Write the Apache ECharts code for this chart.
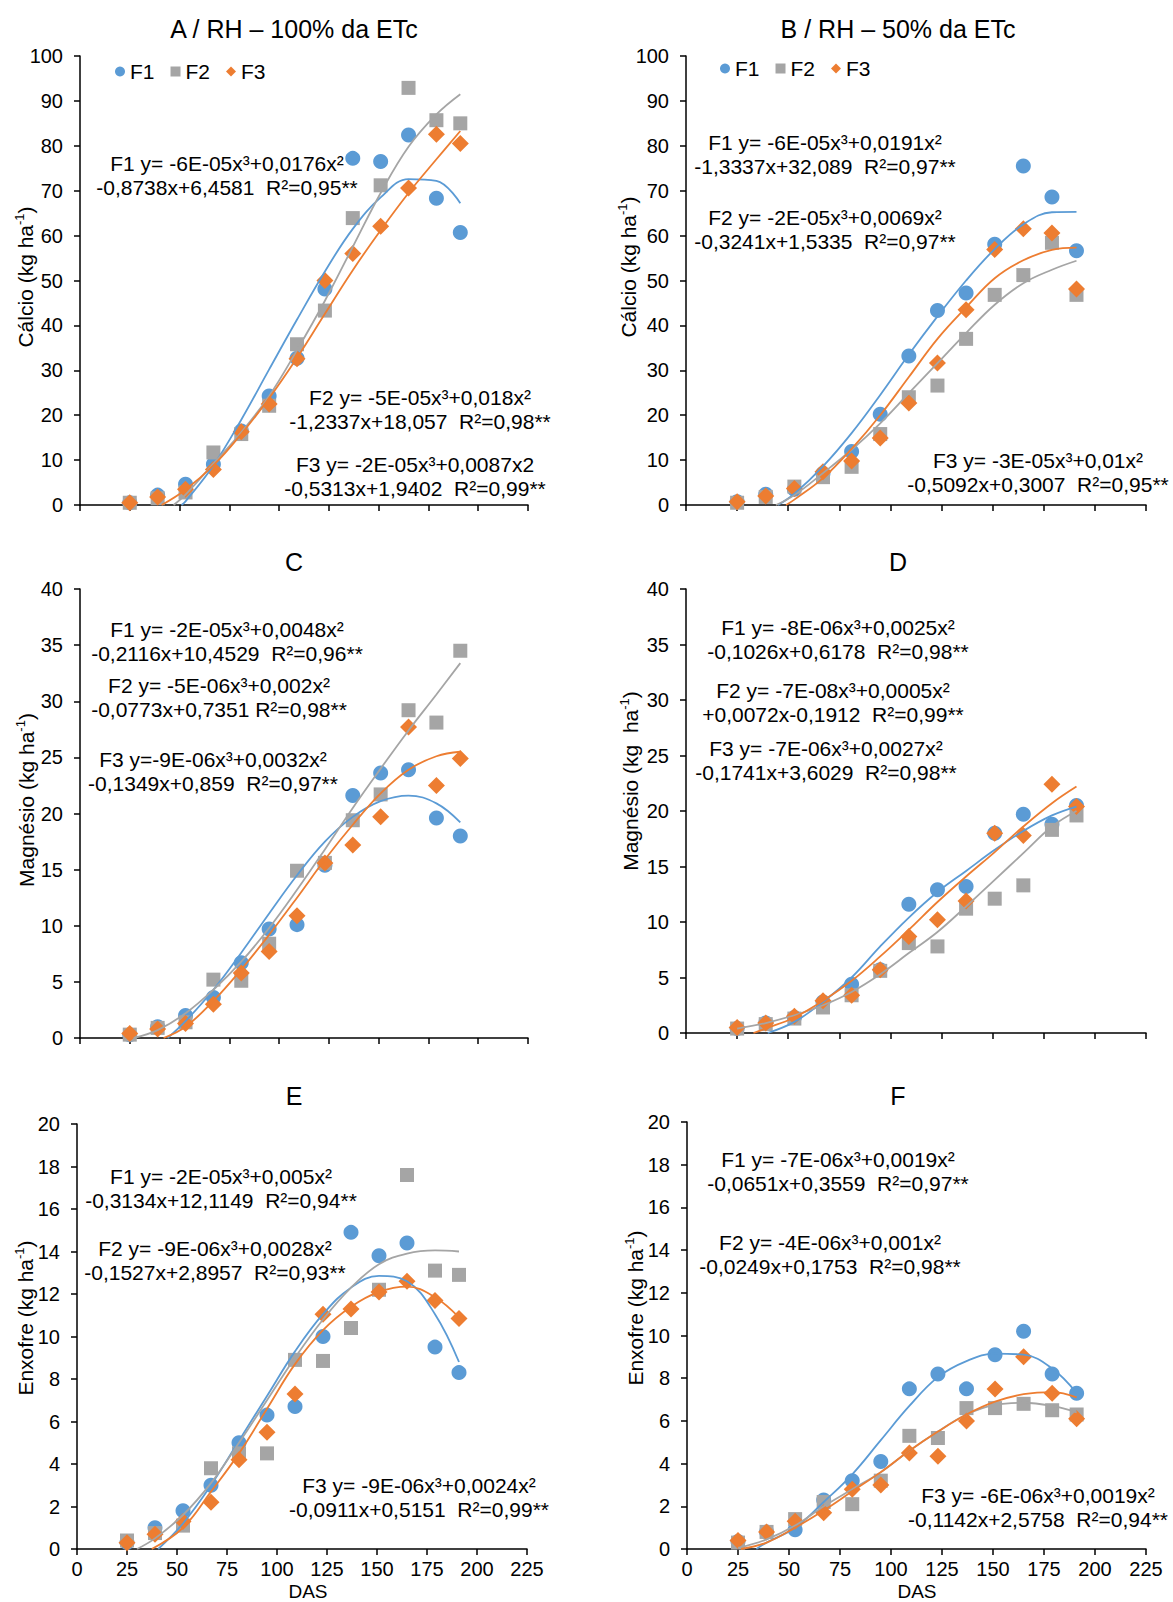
<!DOCTYPE html>
<html>
<head>
<meta charset="utf-8">
<script src="https://cdn.jsdelivr.net/npm/echarts@6/dist/echarts.min.js"></script>
<style>
html,body{margin:0;padding:0;background:#fff;}
#chart{width:1173px;height:1602px;}
</style>
</head>
<body>
<div id="chart"></div>
<script>
// ---------- DATA ----------
const DAS = [25, 39, 53, 67, 81, 95, 109, 123, 137, 151, 165, 179, 191];
const SERIES_NAMES = ['F1', 'F2', 'F3'];

// A / RH – 100% da ETc — Cálcio
const A_F1 = [0.5, 2.2, 4.6, 9.1, 16.5, 24.3, 32.7, 48.1, 77.2, 76.5, 82.4, 68.3, 60.7];
const A_F2 = [0.5, 1.5, 2.8, 11.7, 15.8, 22.1, 35.8, 43.3, 63.9, 71.2, 92.9, 85.7, 85.0];
const A_F3 = [0.5, 1.8, 3.5, 7.9, 16.3, 22.5, 32.6, 50.0, 56.0, 62.1, 70.6, 82.6, 80.5];
const A_T1 = [[51,0],[53,0.8],[67,8.8],[81,19],[95,30.2],[109,41.3],[123,52],[137,61.5],[151,68.5],[165,72.6],[179,72.2],[191,67.2]];
const A_T2 = [[47,0],[53,2.3],[67,9.2],[81,16.2],[95,24.3],[109,34.5],[123,45.5],[137,57.5],[151,69.5],[165,79.8],[179,87],[191,91.5]];
const A_T3 = [[41,0],[53,3.4],[67,8.8],[81,15.8],[95,23.8],[109,32.8],[123,42.6],[137,52.3],[151,61.2],[165,69.5],[179,77],[191,83.3]];

// B / RH – 50% da ETc — Cálcio
const B_F1 = [0.7, 2.4, 3.5, 7.0, 11.9, 20.2, 33.2, 43.3, 47.2, 58.1, 75.5, 68.6, 56.6];
const B_F2 = [0.5, 1.8, 4.1, 6.2, 8.5, 15.8, 24.0, 26.6, 37.0, 46.8, 51.2, 58.4, 46.8];
const B_F3 = [0.7, 2.0, 3.7, 7.4, 9.8, 14.9, 22.7, 31.6, 43.5, 56.9, 61.5, 60.6, 48.1];
const B_T1 = [[45,0],[53,2.5],[67,8.6],[81,16],[95,24.5],[109,33.5],[123,42],[137,50],[151,57],[165,62.5],[179,65.2],[191,65.3]];
const B_T2 = [[44,0],[53,2.2],[67,7.1],[81,12.3],[95,18.2],[109,24.9],[123,31.6],[137,38.3],[151,44.6],[165,49.4],[179,52.4],[191,54.4]];
const B_T3 = [[49,0],[53,1.2],[67,6],[81,12.5],[95,20],[109,28.5],[123,37],[137,44],[151,50.5],[165,54.5],[179,56.8],[191,57.3]];

// C — Magnésio (100% ETc)
const C_F1 = [0.3, 1.0, 2.0, 3.6, 6.7, 9.7, 10.1, 15.4, 21.6, 23.6, 23.9, 19.6, 18.0];
const C_F2 = [0.3, 0.9, 1.4, 5.2, 5.1, 8.4, 14.9, 15.6, 19.4, 21.7, 29.2, 28.1, 34.5];
const C_F3 = [0.4, 0.8, 1.3, 3.0, 5.8, 7.7, 10.9, 15.6, 17.2, 19.7, 27.7, 22.5, 24.9];
const C_T1 = [[44,0],[53,1.5],[67,4.3],[81,7.6],[95,11.1],[109,14.5],[123,17.5],[137,19.7],[151,21.1],[165,21.6],[179,20.9],[191,19.2]];
const C_T2 = [[27,0],[39,0.7],[53,2.2],[67,4.3],[81,6.8],[95,9.8],[109,13.2],[123,16.8],[137,20.5],[151,24],[165,27.4],[179,30.6],[191,33.4]];
const C_T3 = [[42,0],[53,1.0],[67,3.3],[81,6.1],[95,9.2],[109,12.5],[123,15.9],[137,19],[151,21.8],[165,23.9],[179,25.1],[191,25.5]];

// D — Magnésio (50% ETc)
const D_F1 = [0.4, 0.9, 1.4, 2.8, 4.4, 5.7, 11.6, 12.9, 13.2, 18.0, 19.7, 18.8, 20.5];
const D_F2 = [0.4, 0.8, 1.3, 2.3, 3.4, 5.6, 8.1, 7.8, 11.2, 12.1, 13.3, 18.3, 19.6];
const D_F3 = [0.5, 0.9, 1.5, 2.9, 3.4, 5.7, 8.7, 10.2, 11.9, 18.0, 17.8, 22.4, 20.4];
const D_T1 = [[40,0],[53,1],[67,2.8],[81,5],[95,7.8],[109,10.4],[123,12.7],[137,14.6],[151,16.5],[165,18.2],[179,19.6],[191,20.4]];
const D_T2 = [[25,0.4],[39,0.9],[53,1.6],[67,2.5],[81,3.7],[95,5.3],[109,7.2],[123,9.1],[137,11.4],[151,13.8],[165,16.2],[179,18.6],[191,20]];
const D_T3 = [[33,0],[39,0.4],[53,1.4],[67,2.9],[81,4.7],[95,6.9],[109,9.3],[123,11.8],[137,14.1],[151,16.3],[165,18.6],[179,20.7],[191,22.2]];

// E — Enxofre (100% ETc)
const E_F1 = [0.3, 1.0, 1.8, 3.0, 5.0, 6.3, 6.7, 10.0, 14.9, 13.8, 14.4, 9.5, 8.3];
const E_F2 = [0.4, 0.75, 1.1, 3.8, 4.5, 4.5, 8.9, 8.85, 10.4, 12.2, 17.6, 13.1, 12.9];
const E_F3 = [0.3, 0.7, 1.3, 2.2, 4.2, 5.5, 7.3, 11.05, 11.3, 12.1, 12.6, 11.7, 10.85];
const E_T1 = [[40.6,0],[53,1.2],[67,3.0],[81,5.1],[95,7.2],[109,9.3],[123,11.05],[137,12.3],[151,12.85],[165,12.6],[179,11.05],[191,8.8]];
const E_T2 = [[30,0],[39,0.5],[53,1.6],[67,3.1],[81,5.0],[95,7.0],[109,9.0],[123,10.8],[137,12.3],[151,13.4],[165,13.9],[179,14.05],[191,14.0]];
const E_T3 = [[37.4,0],[53,1.0],[67,2.7],[81,4.5],[95,6.6],[109,8.7],[123,10.3],[137,11.4],[151,12.1],[165,12.35],[179,11.85],[191,10.9]];

// F — Enxofre (50% ETc)
const F_F1 = [0.35, 0.8, 0.9, 2.3, 3.2, 4.1, 7.5, 8.2, 7.5, 9.1, 10.2, 8.2, 7.3];
const F_F2 = [0.3, 0.8, 1.4, 2.2, 2.1, 3.2, 5.3, 5.2, 6.6, 6.6, 6.8, 6.5, 6.3];
const F_F3 = [0.4, 0.8, 1.3, 1.7, 2.8, 3.0, 4.5, 4.35, 6.0, 7.5, 9.0, 7.3, 6.1];
const F_T1 = [[34,0],[39,0.3],[53,1.0],[67,2.2],[81,3.5],[95,5.1],[109,6.7],[123,8.05],[137,8.8],[151,9.15],[165,9.1],[179,8.45],[191,7.3]];
const F_T2 = [[25,0.05],[39,0.45],[53,1.1],[67,2.0],[81,2.8],[95,3.6],[109,4.6],[123,5.5],[137,6.3],[151,6.75],[165,6.85],[179,6.7],[191,6.4]];
const F_T3 = [[26.5,0],[39,0.3],[53,1.0],[67,1.8],[81,2.7],[95,3.6],[109,4.6],[123,5.5],[137,6.3],[151,6.9],[165,7.25],[179,7.35],[191,7.1]];

// ---------- TEXTS ----------
const TITLES = ['A / RH \u2013 100% da ETc', 'B / RH \u2013 50% da ETc', 'C', 'D', 'E', 'F'];
const Y_NAMES = ['C\u00e1lcio (kg ha', 'C\u00e1lcio (kg ha', 'Magn\u00e9sio (kg ha', 'Magn\u00e9sio (kg  ha', 'Enxofre (kg ha', 'Enxofre (kg ha'];
const X_NAME = 'DAS';
const EQUATIONS = [
  ['F1 y= -6E-05x\u00b3+0,0176x\u00b2\n-0,8738x+6,4581  R\u00b2=0,95**',
   'F2 y= -5E-05x\u00b3+0,018x\u00b2\n-1,2337x+18,057  R\u00b2=0,98**',
   'F3 y= -2E-05x\u00b3+0,0087x2\n-0,5313x+1,9402  R\u00b2=0,99**'],
  ['F1 y= -6E-05x\u00b3+0,0191x\u00b2\n-1,3337x+32,089  R\u00b2=0,97**',
   'F2 y= -2E-05x\u00b3+0,0069x\u00b2\n-0,3241x+1,5335  R\u00b2=0,97**',
   'F3 y= -3E-05x\u00b3+0,01x\u00b2\n-0,5092x+0,3007  R\u00b2=0,95**'],
  ['F1 y= -2E-05x\u00b3+0,0048x\u00b2\n-0,2116x+10,4529  R\u00b2=0,96**',
   'F2 y= -5E-06x\u00b3+0,002x\u00b2\n-0,0773x+0,7351 R\u00b2=0,98**',
   'F3 y=-9E-06x\u00b3+0,0032x\u00b2\n-0,1349x+0,859  R\u00b2=0,97**'],
  ['F1 y= -8E-06x\u00b3+0,0025x\u00b2\n-0,1026x+0,6178  R\u00b2=0,98**',
   'F2 y= -7E-08x\u00b3+0,0005x\u00b2\n+0,0072x-0,1912  R\u00b2=0,99**',
   'F3 y= -7E-06x\u00b3+0,0027x\u00b2\n-0,1741x+3,6029  R\u00b2=0,98**'],
  ['F1 y= -2E-05x\u00b3+0,005x\u00b2\n-0,3134x+12,1149  R\u00b2=0,94**',
   'F2 y= -9E-06x\u00b3+0,0028x\u00b2\n-0,1527x+2,8957  R\u00b2=0,93**',
   'F3 y= -9E-06x\u00b3+0,0024x\u00b2\n-0,0911x+0,5151  R\u00b2=0,99**'],
  ['F1 y= -7E-06x\u00b3+0,0019x\u00b2\n-0,0651x+0,3559  R\u00b2=0,97**',
   'F2 y= -4E-06x\u00b3+0,001x\u00b2\n-0,0249x+0,1753  R\u00b2=0,98**',
   'F3 y= -6E-06x\u00b3+0,0019x\u00b2\n-0,1142x+2,5758  R\u00b2=0,94**']
];

// ---------- LAYOUT / STYLE ----------
const FONT = '"Liberation Sans", Arial, Helvetica, sans-serif';
const COLORS = ['#5B9BD5', '#A5A5A5', '#ED7D31'];
const SYMBOLS = ['circle', 'rect', 'diamond'];
const SYM_SIZES = [15, 14, 17];

const PANELS = [
  {grid:{left:80, top:56, width:448, height:449}, yMax:100, yInt:10, pts:[A_F1,A_F2,A_F3], trend:[A_T1,A_T2,A_T3], xLabels:false,
   title:[294,29], yName:[25,277], eq:[[227,175],[420,409],[415,476]]},
  {grid:{left:686, top:56, width:460, height:449}, yMax:100, yInt:10, pts:[B_F1,B_F2,B_F3], trend:[B_T1,B_T2,B_T3], xLabels:false,
   title:[898,29], yName:[628,267], eq:[[825,154],[825,229],[1038,472]]},
  {grid:{left:80, top:589, width:448, height:449}, yMax:40, yInt:5, pts:[C_F1,C_F2,C_F3], trend:[C_T1,C_T2,C_T3], xLabels:false,
   title:[294,562], yName:[26,800], eq:[[227,641],[219,697],[213,771]]},
  {grid:{left:686, top:589, width:460, height:444}, yMax:40, yInt:5, pts:[D_F1,D_F2,D_F3], trend:[D_T1,D_T2,D_T3], xLabels:false,
   title:[898,562], yName:[630,781], eq:[[838,639],[833,702],[826,760]]},
  {grid:{left:77, top:1124, width:450, height:425}, yMax:20, yInt:2, pts:[E_F1,E_F2,E_F3], trend:[E_T1,E_T2,E_T3], xLabels:true,
   title:[294,1096], yName:[25,1318], eq:[[221,1188],[215,1260],[419,1497]], xName:[308,1591]},
  {grid:{left:687, top:1122, width:459, height:427}, yMax:20, yInt:2, pts:[F_F1,F_F2,F_F3], trend:[F_T1,F_T2,F_T3], xLabels:true,
   title:[898,1096], yName:[635,1308], eq:[[838,1171],[830,1254],[1038,1507]], xName:[917,1591]}
];

const axisLineStyle = {color:'#000', width:1.5};
const grids = [], xAxes = [], yAxes = [], series = [], graphics = [];

PANELS.forEach((p, i) => {
  grids.push(Object.assign({containLabel:false}, p.grid));
  xAxes.push({
    gridIndex:i, type:'value', min:0, max:225, interval:25,
    axisLine:{show:true, onZero:false, lineStyle:axisLineStyle},
    axisTick:{show:true, inside:false, length:6, lineStyle:axisLineStyle},
    axisLabel:{show:p.xLabels, fontSize:20, color:'#000', fontFamily:FONT, margin:10},
    splitLine:{show:false}
  });
  yAxes.push({
    gridIndex:i, type:'value', min:0, max:p.yMax, interval:p.yInt,
    axisLine:{show:true, lineStyle:axisLineStyle},
    axisTick:{show:true, inside:false, length:6, lineStyle:axisLineStyle},
    axisLabel:{fontSize:20, color:'#000', fontFamily:FONT, margin:17},
    splitLine:{show:false}
  });
  for (let k = 0; k < 3; k++) {
    series.push({
      name: SERIES_NAMES[k], type:'scatter', xAxisIndex:i, yAxisIndex:i,
      symbol: SYMBOLS[k], symbolSize: SYM_SIZES[k],
      itemStyle:{color: COLORS[k], opacity:1},
      data: DAS.map((d, j) => [d, p.pts[k][j]]),
      z: 2
    });
  }
  for (let k = 0; k < 3; k++) {
    series.push({
      name: 'Tend\u00eancia ' + SERIES_NAMES[k], type:'line', xAxisIndex:i, yAxisIndex:i,
      data: p.trend[k], smooth: 0.4, showSymbol:false, symbol:'none',
      lineStyle:{color: COLORS[k], width:1.8}, itemStyle:{color:COLORS[k]},
      silent:true, z: 3, clip:true
    });
  }
  graphics.push({type:'text', x:p.title[0], y:p.title[1], z:10,
    style:{text:TITLES[i], fontSize:25, fontFamily:FONT, fill:'#000', align:'center', verticalAlign:'middle'}});
  graphics.push({type:'text', x:p.yName[0], y:p.yName[1], rotation:Math.PI/2, z:10,
    style:{text:'{a|' + Y_NAMES[i] + '}{s|-1}{a|)}', align:'center', verticalAlign:'middle', fill:'#000',
      rich:{a:{fontSize:21, fontFamily:FONT, fill:'#000', lineHeight:24},
            s:{fontSize:13, fontFamily:FONT, fill:'#000', lineHeight:13, padding:[0,0,11,0]}}}});
  p.eq.forEach((pos, k) => {
    graphics.push({type:'text', x:pos[0], y:pos[1], z:10,
      style:{text:EQUATIONS[i][k], fontSize:21, fontFamily:FONT, fill:'#000', align:'center', verticalAlign:'middle', lineHeight:24}});
  });
  if (p.xName) {
    graphics.push({type:'text', x:p.xName[0], y:p.xName[1], z:10,
      style:{text:X_NAME, fontSize:19, fontFamily:FONT, fill:'#000', align:'center', verticalAlign:'middle'}});
  }
});

const legendData = SERIES_NAMES.map((n, k) => ({name:n, icon:SYMBOLS[k]}));
const legendCommon = {
  orient:'horizontal', itemWidth:10, itemHeight:10, itemGap:16, padding:0,
  selectedMode:false, data:legendData,
  textStyle:{fontSize:21, color:'#000', fontFamily:FONT}
};

const chart = echarts.init(document.getElementById('chart'), null, {renderer:'svg', width:1173, height:1602});
chart.setOption({
  animation:false,
  backgroundColor:'#fff',
  textStyle:{fontFamily:FONT},
  grid: grids,
  xAxis: xAxes,
  yAxis: yAxes,
  legend: [
    Object.assign({left:115, top:61}, legendCommon),
    Object.assign({left:720, top:58}, legendCommon)
  ],
  graphic: graphics,
  series: series
});
</script>
</body>
</html>
